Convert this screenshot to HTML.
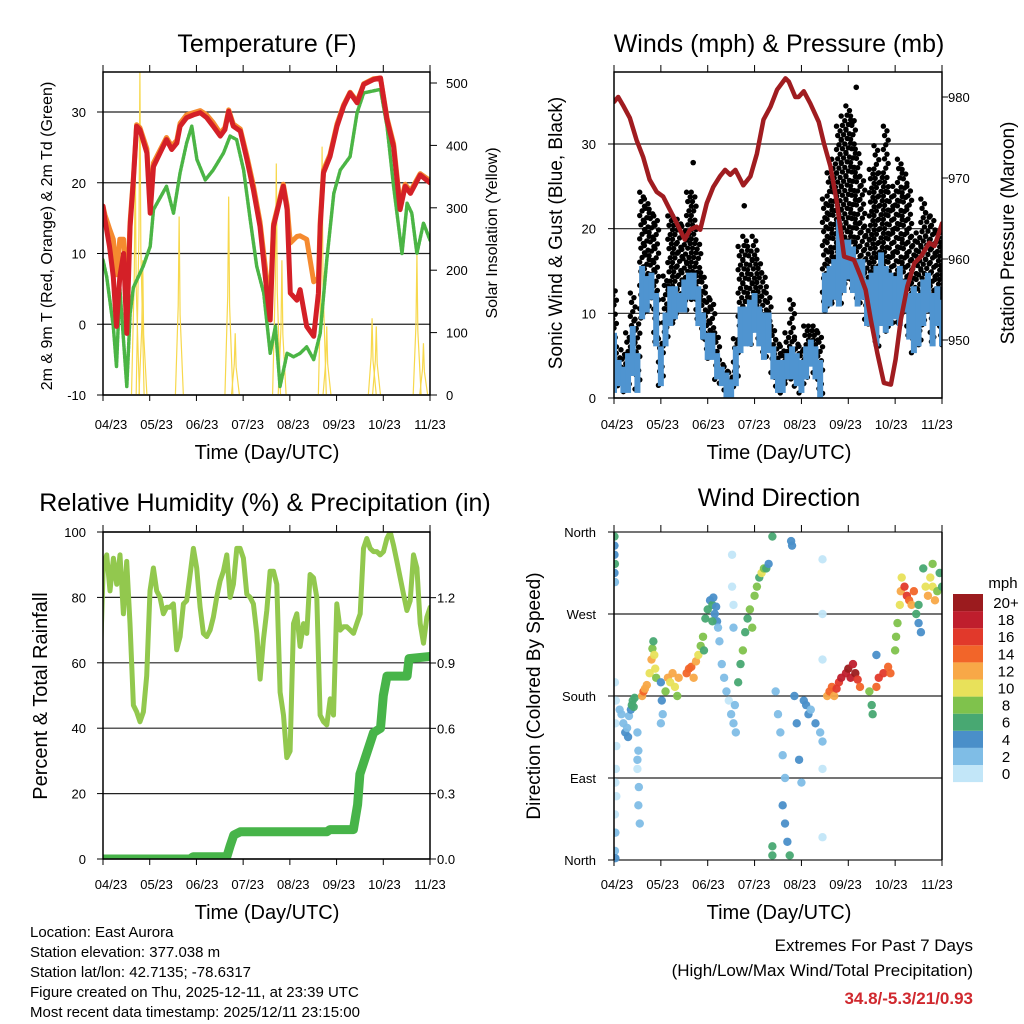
<!DOCTYPE html>
<html><head><meta charset="utf-8"><style>
html,body{margin:0;padding:0;background:#fff;}
svg{display:block;font-family:"Liberation Sans",Arial,sans-serif;}
</style></head><body>
<svg id="fig" width="1024" height="1024" viewBox="0 0 1024 1024" xmlns="http://www.w3.org/2000/svg">
<defs>
<clipPath id="c1"><rect x="103" y="72" width="327" height="323"/></clipPath>
<clipPath id="c2"><rect x="614" y="72" width="328" height="326"/></clipPath>
<clipPath id="c3"><rect x="103" y="532" width="327" height="327"/></clipPath>
<clipPath id="c4"><rect x="614" y="528" width="328" height="336"/></clipPath>
</defs>
<rect width="1024" height="1024" fill="#fff"/>

<text x="267" y="52" font-size="25" text-anchor="middle">Temperature (F)</text>
<text x="779" y="52" font-size="25" text-anchor="middle">Winds (mph) &amp; Pressure (mb)</text>
<text x="265" y="511" font-size="25" text-anchor="middle">Relative Humidity (%) &amp; Precipitation (in)</text>
<text x="779" y="506" font-size="25" text-anchor="middle">Wind Direction</text>

<text transform="translate(52,236) rotate(-90)" font-size="16" text-anchor="middle">2m &amp; 9m T (Red, Orange) &amp; 2m Td (Green)</text>
<text transform="translate(497,233) rotate(-90)" font-size="16" text-anchor="middle">Solar Insolation (Yellow)</text>
<text transform="translate(562,233) rotate(-90)" font-size="19" text-anchor="middle">Sonic Wind &amp; Gust (Blue, Black)</text>
<text transform="translate(1014,233) rotate(-90)" font-size="19" text-anchor="middle">Station Pressure (Maroon)</text>
<text transform="translate(47,696) rotate(-90)" font-size="20" text-anchor="middle">Percent &amp; Total Rainfall</text>
<text transform="translate(540,696) rotate(-90)" font-size="19" text-anchor="middle">Direction (Colored By Speed)</text>

<text x="267" y="459" font-size="20" text-anchor="middle">Time (Day/UTC)</text>
<text x="779" y="459" font-size="20" text-anchor="middle">Time (Day/UTC)</text>
<text x="267" y="919" font-size="20" text-anchor="middle">Time (Day/UTC)</text>
<text x="779" y="919" font-size="20" text-anchor="middle">Time (Day/UTC)</text>

<g font-size="15">
<text x="30" y="937">Location: East Aurora</text>
<text x="30" y="957">Station elevation: 377.038 m</text>
<text x="30" y="977">Station lat/lon: 42.7135; -78.6317</text>
<text x="30" y="997">Figure created on Thu, 2025-12-11, at 23:39 UTC</text>
<text x="30" y="1017">Most recent data timestamp: 2025/12/11 23:15:00</text>
</g>
<text x="973" y="951" font-size="17" text-anchor="end">Extremes For Past 7 Days</text>
<text x="973" y="976" font-size="17" text-anchor="end">(High/Low/Max Wind/Total Precipitation)</text>
<text x="973" y="1004" font-size="17" font-weight="bold" fill="#d0282e" text-anchor="end">34.8/-5.3/21/0.93</text>

<g id="layer"></g>
</svg>
<script>
const xTickLabels = ["04/23","05/23","06/23","07/23","08/23","09/23","10/23","11/23"];
const tempTicks = [-10,0,10,20,30];
const solarTicks = [0,100,200,300,400,500];
const windTicks = [0,10,20,30];
const pressTicks = [950,960,970,980];
const rhTicks = [0,20,40,60,80,100];
const rainTicks = ["0.0","0.3","0.6","0.9","1.2"];
const dirTickLabels = ["North","East","South","West","North"];
const speedBins = ["0","2","4","6","8","10","12","14","16","18","20+"];

const tempT = [0,0.04,0.14,0.22,0.29,0.36,0.44,0.51,0.58,0.65,0.72,0.79,0.94,1.01,1.08,1.22,1.36,1.47,1.58,1.65,1.79,1.94,2.08,2.22,2.36,2.51,2.61,2.69,2.79,2.94,3.08,3.22,3.36,3.51,3.58,3.65,3.79,3.86,3.94,4.01,4.15,4.22,4.36,4.51,4.61,4.65,4.72,4.86,5.01,5.15,5.29,5.44,5.58,5.79,5.94,6.08,6.22,6.36,6.47,6.58,6.79,7.0];
const temp2m = [16.7,14.8,11.0,6.7,-0.3,6.7,10.0,-1.3,13.8,20.4,28.0,27.5,24.2,15.7,22.3,24.2,26.1,24.7,25.6,28.0,29.2,29.6,29.9,29.2,28.0,26.6,27.5,30.1,28.0,27.3,23.3,19.0,13.8,4.4,0.6,13.8,17.6,19.5,16.2,4.4,3.4,4.9,-0.3,-1.7,4.4,13.8,21.4,23.7,28.0,30.8,32.7,31.3,33.9,34.6,34.8,28.9,25.1,16.2,19.5,18.5,21.1,20.0];
const temp9m = [16.7,15.5,13.5,12.0,7.0,12.0,12.0,3.0,14.5,20.8,28.2,27.8,24.8,16.5,22.8,24.6,26.4,25.2,26.0,28.4,29.6,29.9,30.2,29.6,28.5,27.0,27.8,30.3,28.3,27.6,23.8,19.6,14.5,6.0,3.0,14.2,17.9,19.8,16.8,11.5,12.4,12.5,12.0,6.0,6.5,14.5,21.8,24.0,28.3,31.0,32.8,31.5,34.0,34.7,34.8,29.2,25.5,16.8,19.8,18.8,21.3,20.3];
const dewT = [0,0.08,0.22,0.29,0.36,0.51,0.58,0.65,0.86,1.01,1.08,1.36,1.51,1.65,1.79,1.90,2.01,2.19,2.36,2.58,2.72,2.86,3.01,3.15,3.29,3.44,3.58,3.69,3.79,3.94,4.08,4.22,4.36,4.51,4.65,4.79,4.94,5.08,5.29,5.44,5.58,5.94,6.08,6.22,6.40,6.51,6.61,6.72,6.86,7.0];
const dewPt = [9.1,6.7,-0.3,-6.0,5.2,-8.8,1.5,5.2,8.2,11.0,16.2,19.5,15.7,21.4,25.6,28.0,23.3,20.4,21.8,24.2,26.6,26.1,21.8,14.8,8.2,4.4,-4.1,-0.3,-8.8,-4.1,-4.6,-4.1,-3.2,-5.0,-1.3,9.1,18.5,21.8,23.7,29.9,32.7,33.2,28.0,19.5,10.0,17.1,15.7,10.0,14.3,11.9];
const solarT = [0.69,0.79,0.85,1.63,2.69,2.83,3.71,3.83,4.69,4.79,5.76,5.85,6.72,6.86];
const solarV = [387,520,216,286,318,99,371,216,398,110,123,110,227,83];

const windStep = 0.1;
const windLo = [0.6,1.4,0.6,0.6,2.6,0.6,9.3,10.1,11.6,6.1,1.4,6.1,8.5,9.3,10.1,10.1,11.6,11.6,8.5,6.9,4.5,4.5,2.2,1.4,0,0,1.4,5.3,6.1,6.1,7.7,6.1,4.5,5.3,2.2,0.6,0.6,2.2,2.2,1.4,0.6,2.2,3.7,2.2,0,10.1,10.8,11.6,10.8,12.4,14.0,12.4,10.8,11.6,8.5,8.5,6.1,8.5,7.7,8.5,9.3,8.5,10.1,6.9,5.3,6.1,8.5,10.1,6.1,8.5,6.1];
const windHi = [7.7,4.5,3.7,5.3,8.5,5.3,15.6,14.4,14.8,12.4,6.1,10.1,13.2,13.2,12.4,14.0,14.8,14.8,13.2,10.1,7.7,7.7,5.3,3.7,3.0,2.2,6.1,10.8,10.8,11.6,12.4,10.8,10.1,10.1,6.1,4.5,4.5,5.3,6.1,5.3,4.5,6.1,6.9,6.1,4.5,14.8,15.6,16.4,21.1,18.7,18.7,17.9,16.4,16.4,14.0,14.8,15.6,17.2,15.6,14.8,14.4,15.6,14.0,12.4,13.2,12.4,14.0,14.8,12.4,13.2,11.6];
const gustHi = [13.2,5.3,5.7,7.7,12.4,9.3,24.3,23.5,22.3,21.5,7.0,14.4,21.5,21.5,21.1,20.3,24.3,24.3,18.7,14.8,12.4,11.6,7.7,4.5,3.7,3.0,7.0,17.9,19.1,17.9,19.1,16.4,14.8,12.4,8.5,6.9,6.1,7.7,11.6,6.9,6.1,8.5,8.5,8.5,7.7,23.5,26.6,28.2,32.1,33.3,34.5,33.3,29.4,26.2,20.3,27.0,29.8,26.6,32.1,24.3,25.0,28.2,27.0,25.0,19.1,19.5,23.5,21.9,21.5,19.5,19.5];
const gustOutT = [1.69,2.78,5.17,5.08];
const gustOutV = [27.8,22.7,36.7,32.5];

const pressT = [0,0.09,0.19,0.34,0.48,0.62,0.76,0.91,1.05,1.19,1.34,1.51,1.62,1.76,1.84,1.98,2.12,2.26,2.37,2.48,2.59,2.76,2.91,3.05,3.19,3.34,3.48,3.66,3.73,3.87,3.94,4.05,4.19,4.37,4.48,4.62,4.76,4.91,5.12,5.26,5.37,5.48,5.62,5.76,5.91,6.01,6.12,6.26,6.41,6.55,6.73,6.84,6.91,7.0];
const pressV = [979.4,980.0,979.0,977.4,974.7,972.6,969.8,968.3,967.7,966.1,964.4,962.4,963.6,964.0,963.6,966.9,968.9,970.2,971.0,970.4,971.0,969.1,970.2,973.0,977.2,978.8,980.9,982.3,981.9,980.0,980.0,980.7,979.2,976.9,974.3,971.4,966.9,960.3,959.9,957.9,956.2,952.5,948.4,944.7,944.5,947.6,952.5,956.6,959.5,960.3,962.0,961.6,962.8,964.4];

const rhStart = -0.064;
const rhStep = 0.0714;
const rhV = [57,90,93,82,92,84,93,75,91,72,47,45,42,45,56,82,89,82,80,75,77,77,78,64,68,78,79,87,95,89,77,69,68,70,74,80,85,88,93,80,84,95,95,92,81,80,78,69,55,67,76,88,88,84,51,44,31,33,72,75,65,72,69,87,86,80,44,42,41,49,44,78,70,71,71,70,69,72,75,95,98,95,94,94,93,94,98,100,96,91,86,81,76,79,93,89,72,66,74,77,69,72];
const rainT = [0,1.86,1.93,2.65,2.72,2.80,2.94,4.79,4.86,5.36,5.45,5.50,5.79,5.94,6.00,6.08,6.51,6.55,7.0];
const rainV = [0,0,0.01,0.01,0.06,0.11,0.125,0.125,0.135,0.135,0.25,0.39,0.58,0.60,0.75,0.84,0.84,0.92,0.93];

const dirT = [0.01,0.01,0.01,0.02,0.01,0.02,0.02,0.04,0.03,0.05,0.04,0.03,0.05,0.02,0.03,0.02,0.03,
0.12,0.16,0.2,0.24,0.28,0.3,0.32,0.36,0.38,0.4,0.44,0.42,
0.5,0.52,0.5,0.53,0.52,0.55,0.5,
0.6,0.63,0.66,0.7,0.76,0.8,0.82,0.84,0.86,0.88,0.9,
1.0,1.02,1.04,1.0,1.1,1.15,1.2,1.25,1.3,1.35,1.38,
1.55,1.6,1.65,1.7,1.75,1.8,1.85,1.9,1.92,
1.95,2.0,2.05,2.1,2.15,2.2,2.1,2.12,2.18,2.22,2.25,
2.3,2.35,2.4,2.45,2.5,2.55,2.6,2.58,2.52,2.52,2.55,2.55,
2.65,2.7,2.75,2.8,2.85,2.9,2.95,3.0,3.05,3.1,3.15,3.2,3.25,3.3,3.38,3.38,3.38,
3.45,3.5,3.55,3.6,3.65,3.6,3.65,3.7,3.75,3.78,3.8,3.85,3.9,3.95,4.0,
4.05,4.1,4.15,4.2,4.3,4.4,4.45,4.45,4.45,4.45,4.45,4.45,
4.55,4.6,4.65,4.7,4.75,4.8,4.85,4.95,5.0,5.05,5.1,5.15,5.2,5.25,
5.45,5.5,5.52,5.6,5.65,5.75,5.85,5.9,5.6,
6.0,6.02,6.05,6.1,6.12,6.14,6.2,6.25,6.3,6.35,6.4,
6.45,6.5,6.55,6.5,6.6,6.65,6.7,6.75,6.8,6.85,6.9,6.95,7.0,6.8];
const dirDeg = [355,345,335,325,315,305,195,175,150,125,100,85,70,50,30,10,2,
165,160,150,140,145,135,158,165,170,175,178,168,
140,120,100,80,60,40,110,
180,185,188,192,205,220,232,240,225,210,200,
195,175,160,150,185,200,195,205,190,180,200,
205,210,212,200,218,225,235,245,230,
265,275,285,280,270,262,262,288,278,255,240,
215,200,185,175,160,150,140,170,335,300,280,255,
195,215,230,250,265,275,255,290,300,310,315,320,320,325,355,15,5,
185,160,140,115,90,60,40,20,5,350,345,180,150,110,85,
175,170,160,165,150,140,130,330,270,220,100,25,
180,185,190,180,188,195,200,205,210,200,215,205,198,190,
185,170,160,190,200,205,212,205,225,
230,245,260,280,295,310,300,290,285,280,295,
270,260,250,280,320,300,290,310,300,285,295,315,300,325];
const dirSpd = [6,5,4,6,4,3,1,1,1,1,1,1,1,1,3,3,4,
3,2,3,4,3,4,3,5,6,7,6,6,
2,2,1,2,3,2,2,
12,14,13,12,10,12,9,7,10,11,8,
4,4,3,2,9,12,10,12,10,9,12,
14,15,14,13,12,10,9,8,7,
6,6,5,6,5,4,7,4,4,3,3,
2,2,2,1,2,2,3,3,1,1,1,2,
7,7,8,6,7,8,9,9,8,7,10,8,6,5,7,7,6,
2,2,2,2,3,4,5,4,6,4,4,4,4,4,3,
4,5,4,3,4,3,2,1,1,1,1,1,
13,14,15,13,16,17,18,19,20,18,19,20,17,15,
8,7,6,14,16,17,15,14,4,
9,8,9,11,12,11,16,17,15,13,14,
6,5,4,7,7,10,12,11,10,12,9,7,6,8];

const NS = "http://www.w3.org/2000/svg";
const layer = document.getElementById("layer");
function mk(tag, attrs, parent){
  const e = document.createElementNS(NS, tag);
  for (const k in attrs) e.setAttribute(k, attrs[k]);
  (parent || layer).appendChild(e);
  return e;
}
function lin(d0,d1,r0,r1){ return v => r0 + (v-d0)/(d1-d0)*(r1-r0); }

const speedColors = ["#c2e6f8","#7fbde6","#4a8fc9","#48a872","#7fc24c","#e8e15a","#f8a847","#f26529","#e1392b","#bf1e2d","#9b1b1e"];

const x1 = lin(0,7,103,430), x2 = lin(0,7,614,942);
const yT = lin(-10,30,395,112);
const yS = lin(0,500,395,83);
const yW = lin(0,30,398,144);
const yP = lin(950,980,340,97);
const yR = lin(0,100,859,532);
const yRain = lin(0,0.9,859,663);
const yD = lin(0,360,860,532);

function gridH(y, x0, xe, name){
  const g = mk("line",{x1:x0,x2:xe,y1:y,y2:y,stroke:"#222","stroke-width":1.2});
  
  
}
function frame(x,y,w,h,name){
  const r = mk("rect",{x:x,y:y,width:w,height:h,fill:"none",stroke:"#000","stroke-width":1.5});
  
  
}
function label(x,y,txt,anchor,size,name){
  const t = mk("text",{x:x,y:y,"text-anchor":anchor,"font-size":size});
  t.textContent = txt;
  
  
  return t;
}
function xAxis(xs, yTop, yBot, lblX0, lblStep, lblY, prefix){
  for (let i=0;i<8;i++){
    const xx = xs(i);
    const t1 = mk("line",{x1:xx,x2:xx,y1:yTop-7,y2:yTop,stroke:"#000","stroke-width":1});
    
    
    const t2 = mk("line",{x1:xx,x2:xx,y1:yBot,y2:yBot+6,stroke:"#000","stroke-width":1});
    
    
    label(lblX0+i*lblStep, lblY, xTickLabels[i], "middle", 13, prefix+'-x-tick-label');
  }
}
function polyline(xs, ys, tArr, vArr, color, width, name, clip, dash){
  let pts = [];
  for (let i=0;i<tArr.length;i++) pts.push(xs(tArr[i]).toFixed(1)+","+ys(vArr[i]).toFixed(1));
  const a = {points:pts.join(" "),fill:"none",stroke:color,"stroke-width":width,"stroke-linejoin":"round","stroke-linecap":"round","clip-path":"url(#"+clip+")"};
  if (dash) a["stroke-dasharray"] = dash;
  const p = mk("polyline",a);
  
  
}

// Panel 1
tempTicks.forEach(v=>{
  gridH(yT(v),103,430,'temperature-gridline');
  label(86, yT(v)+5, String(v), "end", 13, 'temperature-y-tick-label');
  const tk = mk("line",{x1:97,x2:103,y1:yT(v),y2:yT(v),stroke:"#000"});
  
  
});
solarTicks.forEach(v=>{
  label(446, yS(v)+5, String(v), "start", 13, 'solar-y-tick-label');
  const tk = mk("line",{x1:430,x2:437,y1:yS(v),y2:yS(v),stroke:"#000"});
  
  
});
solarT.forEach((t,i)=>{
  const pts = [x1(t-0.08)+","+yS(0), x1(t-0.02)+","+yS(solarV[i]*0.5), x1(t)+","+yS(solarV[i]), x1(t+0.02)+","+yS(solarV[i]*0.45), x1(t+0.09)+","+yS(0)].join(" ");
  const p = mk("polyline",{points:pts,fill:"none",stroke:"#f7d84c","stroke-width":1.2,"clip-path":"url(#c1)"});
  
  
});
polyline(x1,yT,tempT,temp9m,"#f58a2f",5,'temp-9m-line','c1');
polyline(x1,yT,dewT,dewPt,"#4bb545",3.5,'dewpoint-line','c1',"2.5 1.5");
polyline(x1,yT,tempT,temp2m,"#d42027",5,'temp-2m-line','c1');
frame(103,72,327,323,'temperature-plot-frame');
xAxis(x1,72,395,111,45.57,429,'temperature');

// Panel 2
windTicks.forEach(v=>{
  gridH(yW(v),614,942,'wind-gridline');
  label(596, yW(v)+5, String(v), "end", 13, 'wind-y-tick-label');
  const tk = mk("line",{x1:608,x2:614,y1:yW(v),y2:yW(v),stroke:"#000"});
  
  
});
pressTicks.forEach(v=>{
  label(948, yP(v)+5, String(v), "start", 13, 'pressure-y-tick-label');
  const tk = mk("line",{x1:942,x2:948,y1:yP(v),y2:yP(v),stroke:"#000"});
  
  
});
const gustG = mk("g",{fill:"#000","clip-path":"url(#c2)"});


const offs = [-2,1,-1,2,0];
gustHi.forEach((g,i)=>{
  const t = i*windStep;
  const lo = Math.max(0, windLo[i]);
  let k=0;
  for (let v=g; v>=lo; v-=0.55){
    const c = mk("circle",{cx:x2(t)+offs[k%5]*1.2,cy:yW(v),r:2.7},gustG);
    
    
    k++;
  }
});
gustOutT.forEach((t,i)=>{
  const c = mk("circle",{cx:x2(t),cy:yW(gustOutV[i]),r:2.8},gustG);
  
  
});
const windG = mk("g",{fill:"#4f94d0","clip-path":"url(#c2)"});


windLo.forEach((lo,i)=>{
  const t = i*windStep;
  const r = mk("rect",{x:x2(t)-3,y:yW(windHi[i]),width:6,height:Math.max(2,yW(lo)-yW(windHi[i]))},windG);
  
  
});
polyline(x2,yP,pressT,pressV,"#a01c20",4.5,'pressure-line','c2');
frame(614,72,328,326,'winds-plot-frame');
xAxis(x2,72,398,617,45.7,429,'winds');

// Panel 3
rhTicks.forEach(v=>{
  gridH(yR(v),103,430,'humidity-gridline');
  label(86, yR(v)+5, String(v), "end", 13, 'humidity-y-tick-label');
  const tk = mk("line",{x1:97,x2:103,y1:yR(v),y2:yR(v),stroke:"#000"});
  
  
});
rainTicks.forEach(s=>{
  const v = parseFloat(s);
  label(437, yRain(v)+5, s, "start", 13, 'rain-y-tick-label');
  const tk = mk("line",{x1:430,x2:436,y1:yRain(v),y2:yRain(v),stroke:"#000"});
  
  
});
const rhTimes = rhV.map((_,i)=>rhStart+i*rhStep);
polyline(x1,yR,rhTimes,rhV,"#92c84e",5,'humidity-line','c3');
polyline(x1,yRain,rainT,rainV,"#47b449",9,'rainfall-line','c3');
frame(103,532,327,327,'humidity-plot-frame');
xAxis(x1,532,859,111,45.57,889,'humidity');

// Panel 4
dirTickLabels.forEach((s,i)=>{
  const v = i*90;
  gridH(yD(v),614,942,'direction-gridline');
  label(596, yD(v)+5, s, "end", 13, 'direction-y-tick-label');
  const tk = mk("line",{x1:608,x2:614,y1:yD(v),y2:yD(v),stroke:"#000"});
  
  
});
const dirG = mk("g",{"clip-path":"url(#c4)"});


dirT.forEach((t,i)=>{
  const bin = Math.min(10, Math.floor(dirSpd[i]/2));
  const c = mk("circle",{cx:x2(t),cy:yD(dirDeg[i]),r:4.2,fill:speedColors[bin],"fill-opacity":0.95},dirG);
  
  
});
const f4 = mk("line",{x1:614,x2:614,y1:532,y2:860,stroke:"#000","stroke-width":1.5});


const f4r = mk("line",{x1:942,x2:942,y1:532,y2:860,stroke:"#000","stroke-width":1.5});


xAxis(x2,532,860,617,45.7,889,'direction');

label(1003, 588, "mph", "middle", 15, 'colorbar-title');
speedBins.forEach((s,i)=>{
  const j = speedBins.length-1-i;
  const yy = 594 + j*17.1;
  const r = mk("rect",{x:953,y:yy,width:30,height:17.1,fill:speedColors[i]});
  
  
  label(1006, yy+14, s, "middle", 15, 'colorbar-label');
});
</script>
</body></html>
